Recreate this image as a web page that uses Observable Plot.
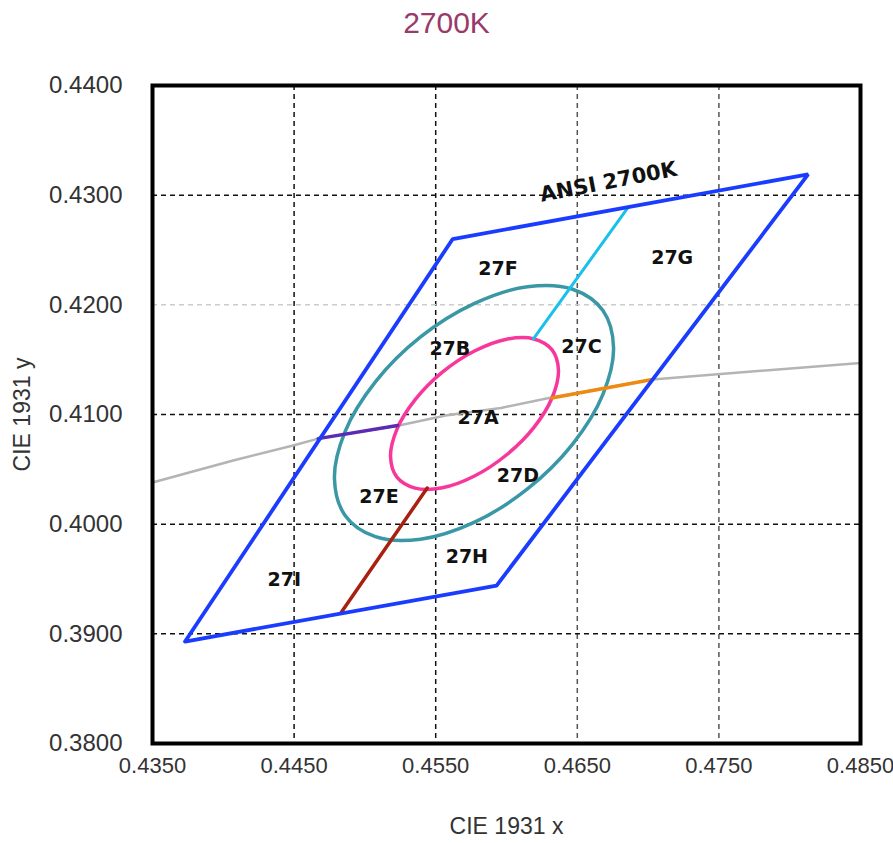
<!DOCTYPE html>
<html>
<head>
<meta charset="utf-8">
<script src="https://cdn.jsdelivr.net/npm/d3@7"></script>
<script src="https://cdn.jsdelivr.net/npm/@observablehq/plot@0.6"></script>
<style>
  body { margin: 0; background: #fff; }
  #title { width: 893px; height: 50px; line-height: 46px; text-align: center;
           font-family: "Liberation Sans", Arial, sans-serif; font-size: 30px; color: #983a6a; }
</style>
</head>
<body>
<div id="title">2700K</div>
<div id="chart"></div>
<script>
// Axis ticks
const xTicks = [0.435, 0.445, 0.455, 0.465, 0.475, 0.485];
const yTicks = [0.38, 0.39, 0.40, 0.41, 0.42, 0.43, 0.44];

// ANSI 2700K quadrangle (closed)
const quadX = [0.4373, 0.4562, 0.4813, 0.4593, 0.4373];
const quadY = [0.3893, 0.4260, 0.4319, 0.3944, 0.3893];

// Planckian locus
const locusX = [0.4350, 0.4407, 0.4450, 0.4467, 0.4524, 0.4557, 0.4596, 0.4630, 0.4703, 0.4850];
const locusY = [0.4038, 0.4058, 0.4072, 0.4078, 0.4090, 0.4099, 0.4106, 0.4115, 0.4132, 0.4147];

// Inner ellipse (27A boundary), read around its outline
const pinkX = [0.46367, 0.46322, 0.46194, 0.46001, 0.45774, 0.45547, 0.45355, 0.45226,
               0.45181, 0.45226, 0.45355, 0.45547, 0.45774, 0.46001, 0.46194, 0.46322];
const pinkY = [0.41401, 0.41153, 0.40883, 0.40633, 0.40439, 0.40332, 0.40329, 0.40429,
               0.40617, 0.40865, 0.41135, 0.41386, 0.41579, 0.41687, 0.41689, 0.41589];

// Outer ellipse, read around its outline
const tealX = [0.46756, 0.46681, 0.46467, 0.46148, 0.45771, 0.45393, 0.45074, 0.44860,
               0.44785, 0.44860, 0.45074, 0.45393, 0.45771, 0.46148, 0.46467, 0.46681];
const tealY = [0.41611, 0.41183, 0.40730, 0.40321, 0.40016, 0.39863, 0.39886, 0.40080,
               0.40417, 0.40844, 0.41297, 0.41707, 0.42011, 0.42165, 0.42142, 0.41948];

// Division lines
const cyanX = [0.4619, 0.4686], cyanY = [0.4169, 0.4289];
const orangeX = [0.4632, 0.4703], orangeY = [0.4115, 0.4132];
const purpleX = [0.4467, 0.4523], purpleY = [0.4078, 0.4090];
const redX = [0.4544, 0.4483], redY = [0.4033, 0.3919];

// Bin labels
const binNames = ["27F", "27G", "27B", "27C", "27A", "27D", "27E", "27H", "27I"];
const binX = [0.4594, 0.4717, 0.4560, 0.4653, 0.4580, 0.4608, 0.4510, 0.4572, 0.4443];
const binY = [0.4233, 0.4243, 0.4160, 0.4162, 0.4097, 0.4044, 0.4025, 0.3970, 0.3949];

const ansiLabel = ["ANSI 2700K"], ansiX = [0.4672], ansiY = [0.4312];

const pts = (xs, ys) => xs.map((x, i) => ({x, y: ys[i]}));
const fmt = d3.format(".4f");
const dash = "5,4";

const chart = Plot.plot({
  width: 893,
  height: 793,
  marginTop: 35,
  marginBottom: 100,
  marginLeft: 152,
  marginRight: 33,
  x: {domain: [0.435, 0.485]},
  y: {domain: [0.38, 0.44]},
  style: {fontFamily: "'Liberation Sans', Arial, sans-serif", background: "white", overflow: "visible"},
  marks: [
    Plot.ruleX([0.445, 0.455], {stroke: "#111", strokeWidth: 1.5, strokeDasharray: dash}),
    Plot.ruleX([0.465, 0.475], {stroke: "#555", strokeWidth: 1.5, strokeDasharray: dash}),
    Plot.ruleY([0.39, 0.40, 0.41, 0.43], {stroke: "#111", strokeWidth: 1.5, strokeDasharray: dash}),
    Plot.ruleY([0.42], {stroke: "#ccc", strokeWidth: 1.5, strokeDasharray: dash}),
    Plot.line(pts(locusX, locusY), {x: "x", y: "y", stroke: "#b4b4b4", strokeWidth: 2.5}),
    Plot.line(pts(tealX, tealY), {x: "x", y: "y", curve: "catmull-rom-closed", stroke: "#3a98a6", strokeWidth: 3.5}),
    Plot.line(pts(pinkX, pinkY), {x: "x", y: "y", curve: "catmull-rom-closed", stroke: "#f7379b", strokeWidth: 3.5}),
    Plot.line(pts(cyanX, cyanY), {x: "x", y: "y", stroke: "#18c0ec", strokeWidth: 3}),
    Plot.line(pts(orangeX, orangeY), {x: "x", y: "y", stroke: "#ee8a12", strokeWidth: 3.5}),
    Plot.line(pts(purpleX, purpleY), {x: "x", y: "y", stroke: "#5b2bb3", strokeWidth: 3.5}),
    Plot.line(pts(redX, redY), {x: "x", y: "y", stroke: "#a8200f", strokeWidth: 3.5}),
    Plot.line(pts(quadX, quadY), {x: "x", y: "y", stroke: "#1a3cff", strokeWidth: 3.8, strokeLinejoin: "miter"}),
    Plot.text(binNames, {x: (d, i) => binX[i], y: (d, i) => binY[i], text: d => d,
      fontFamily: "'DejaVu Sans', sans-serif", fontWeight: "bold", fontSize: 19, fill: "#111"}),
    Plot.text(ansiLabel, {x: (d, i) => ansiX[i], y: (d, i) => ansiY[i], text: d => d, rotate: -11,
      fontFamily: "'DejaVu Sans', sans-serif", fontWeight: "bold", fontSize: 21, fill: "#111"}),
    Plot.frame({stroke: "#000", strokeWidth: 4}),
    Plot.axisX({ticks: xTicks, tickFormat: fmt, tickSize: 0, tickPadding: 14, fontSize: 22, fill: "#333", label: null}),
    Plot.axisY({ticks: yTicks, tickFormat: fmt, tickSize: 0, tickPadding: 30, fontSize: 24, fill: "#333", label: null}),
    Plot.text(["CIE 1931 x"], {frameAnchor: "bottom", dy: 90, fontSize: 23, fill: "#333", textAnchor: "middle"}),
    Plot.text(["CIE 1931 y"], {frameAnchor: "left", dx: -130, rotate: -90, fontSize: 23, fill: "#333", textAnchor: "middle"})
  ]
});
document.getElementById("chart").appendChild(chart);
</script>
</body>
</html>
